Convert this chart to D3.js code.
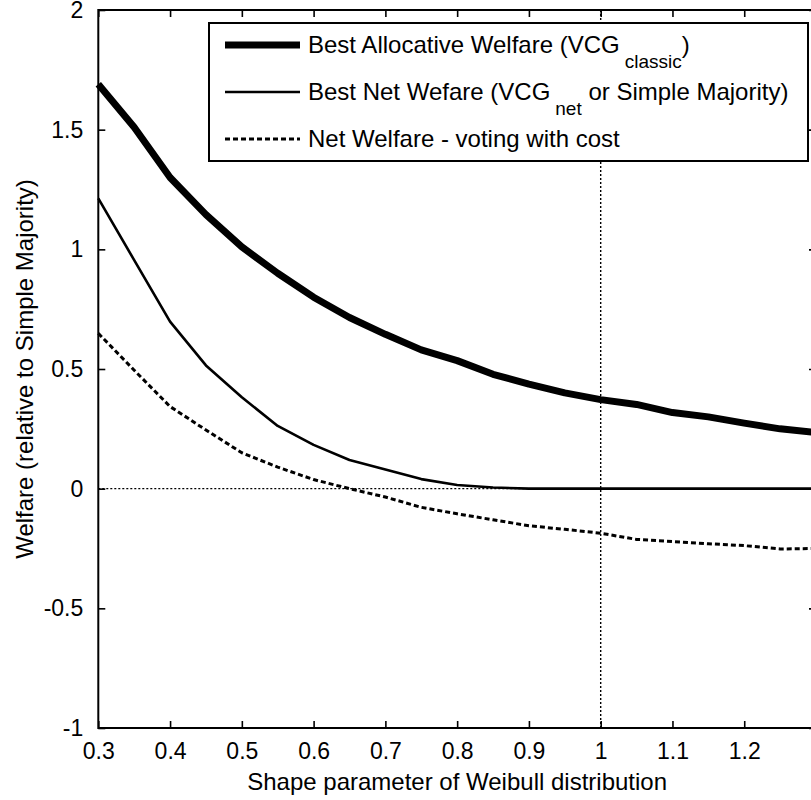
<!DOCTYPE html>
<html>
<head>
<meta charset="utf-8">
<script src="https://cdn.jsdelivr.net/npm/d3@7"></script>
<style>
  body { margin: 0; background: #fff; }
  svg text { font-family: "Liberation Sans", Arial, sans-serif; fill: #000; }
</style>
</head>
<body>
<div id="chart"></div>
<script>
// Shape parameter values (x) for every series
const shapeParams = [0.3, 0.35, 0.4, 0.45, 0.5, 0.55, 0.6, 0.65, 0.7, 0.75, 0.8, 0.85, 0.9,
  0.95, 1.0, 1.05, 1.1, 1.15, 1.2, 1.25, 1.3];

// Best Allocative Welfare (VCG classic)
const allocWelfare = [1.69, 1.51, 1.30, 1.145, 1.01, 0.90, 0.80, 0.715, 0.645, 0.58, 0.535, 0.478,
  0.437, 0.40, 0.372, 0.352, 0.318, 0.30, 0.274, 0.25, 0.235];

// Best Net Wefare (VCG net or Simple Majority)
const netWelfare = [1.213, 0.955, 0.698, 0.515, 0.382, 0.262, 0.183, 0.12, 0.08, 0.04, 0.015, 0.005,
  0, 0, 0, 0, 0, 0, 0, 0, 0];

// Net Welfare - voting with cost
const costWelfare = [0.649, 0.495, 0.343, 0.245, 0.15, 0.09, 0.038, 0.0, -0.035, -0.078, -0.105, -0.13,
  -0.155, -0.17, -0.186, -0.212, -0.221, -0.23, -0.238, -0.252, -0.25];

const xTicks = [0.3, 0.4, 0.5, 0.6, 0.7, 0.8, 0.9, 1.0, 1.1, 1.2, 1.3];
const xTickLabels = ["0.3", "0.4", "0.5", "0.6", "0.7", "0.8", "0.9", "1", "1.1", "1.2", ""];
const yTicks = [-1, -0.5, 0, 0.5, 1, 1.5, 2];
const yTickLabels = ["-1", "-0.5", "0", "0.5", "1", "1.5", "2"];

const legendLabels = [
  { main: "Best Allocative Welfare (VCG", sub: "classic", tail: ")" },
  { main: "Best Net Wefare (VCG", sub: "net", tail: " or Simple Majority)" },
  { main: "Net Welfare - voting with cost", sub: null, tail: "" }
];

// Layout
const W = 811, H = 800;
const plot = { left: 98.3, right: 816, top: 10, bottom: 728 };

const svg = d3.select("#chart")
  .append("svg")
  .attr("width", W)
  .attr("height", H);

// Scales
const x = d3.scaleLinear().domain([0.3, 1.3]).range([plot.left, plot.right]);
const y = d3.scaleLinear().domain([-1, 2]).range([plot.bottom, plot.top]);

// Reference lines at x = 1 and y = 0
svg.append("line")
  .attr("x1", x(1)).attr("x2", x(1))
  .attr("y1", plot.top).attr("y2", plot.bottom)
  .attr("stroke", "#000").attr("stroke-width", 1.4)
  .attr("stroke-dasharray", "2,2");

svg.append("line")
  .attr("x1", plot.left).attr("x2", plot.right)
  .attr("y1", y(0)).attr("y2", y(0))
  .attr("stroke", "#000").attr("stroke-width", 1.4)
  .attr("stroke-dasharray", "2,2");

// Series
const series = [
  { values: allocWelfare, width: 7, dash: null },
  { values: netWelfare, width: 2.6, dash: null },
  { values: costWelfare, width: 3, dash: "5,3" }
];

const line = d3.line()
  .x((d, i) => x(shapeParams[i]))
  .y(d => y(d));

series.forEach(s => {
  svg.append("path")
    .datum(s.values)
    .attr("d", line)
    .attr("fill", "none")
    .attr("stroke", "#000")
    .attr("stroke-width", s.width)
    .attr("stroke-linejoin", "round")
    .attr("stroke-dasharray", s.dash);
});

// Axes: bottom/left with labels, top/right ticks only, all ticks inward
const tickLen = 7;

svg.append("g")
  .attr("transform", `translate(0,${plot.bottom})`)
  .call(d3.axisBottom(x).tickValues(xTicks).tickSize(-tickLen).tickPadding(tickLen + 8)
    .tickFormat((d, i) => xTickLabels[i]))
  .call(g => g.select(".domain").remove());

svg.append("g")
  .attr("transform", `translate(0,${plot.top})`)
  .call(d3.axisTop(x).tickValues(xTicks).tickSize(-tickLen).tickFormat(""))
  .call(g => g.select(".domain").remove());

svg.append("g")
  .attr("transform", `translate(${plot.left},0)`)
  .call(d3.axisLeft(y).tickValues(yTicks).tickSize(-tickLen).tickPadding(tickLen + 8)
    .tickFormat((d, i) => yTickLabels[i]))
  .call(g => g.select(".domain").remove());

svg.append("g")
  .attr("transform", `translate(${plot.right},0)`)
  .call(d3.axisRight(y).tickValues(yTicks).tickSize(-tickLen).tickFormat(""))
  .call(g => g.select(".domain").remove());

svg.selectAll(".tick line").attr("stroke", "#000").attr("stroke-width", 1.6);
svg.selectAll(".tick text").style("font-size", "23px");

// Frame
svg.append("rect")
  .attr("x", plot.left).attr("y", plot.top)
  .attr("width", plot.right - plot.left).attr("height", plot.bottom - plot.top)
  .attr("fill", "none").attr("stroke", "#000").attr("stroke-width", 2);

// Axis titles
svg.append("text")
  .attr("x", (plot.left + plot.right) / 2)
  .attr("y", 790)
  .attr("text-anchor", "middle")
  .style("font-size", "24px")
  .text("Shape parameter of Weibull distribution");

svg.append("text")
  .attr("transform", `translate(33,${(plot.top + plot.bottom) / 2}) rotate(-90)`)
  .attr("text-anchor", "middle")
  .style("font-size", "24px")
  .text("Welfare (relative to Simple Majority)");

// Legend
const legend = svg.append("g");
const box = { x: 209, y: 23, w: 599, h: 138 };

legend.append("rect")
  .attr("x", box.x).attr("y", box.y)
  .attr("width", box.w).attr("height", box.h)
  .attr("fill", "#fff").attr("stroke", "#000").attr("stroke-width", 2);

const rowY = [45, 92, 139];

legendLabels.forEach((lab, i) => {
  const s = series[i];
  legend.append("line")
    .attr("x1", 225).attr("x2", 300)
    .attr("y1", rowY[i]).attr("y2", rowY[i])
    .attr("stroke", "#000")
    .attr("stroke-width", s.width)
    .attr("stroke-dasharray", s.dash);

  const t = legend.append("text")
    .attr("x", 308)
    .attr("y", rowY[i] + 8)
    .style("font-size", "24px");
  t.append("tspan").text(lab.main);
  if (lab.sub) {
    t.append("tspan").attr("dx", 5).attr("dy", 15).style("font-size", "19px").text(lab.sub);
    t.append("tspan").attr("dy", -15).text(lab.tail);
  }
});
</script>
</body>
</html>
